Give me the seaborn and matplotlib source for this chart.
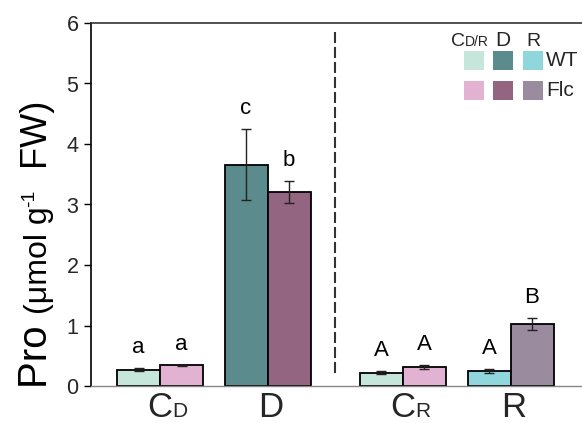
import numpy as np
import pandas as pd
import matplotlib
matplotlib.use("Agg")
import matplotlib.pyplot as plt
import seaborn as sns
from matplotlib.patches import Rectangle
from matplotlib.transforms import blended_transform_factory

# ---- data ----
groups = ["CD", "D", "CR", "R"]
genotypes = ["WT", "Flc"]
wt_mean = [0.27, 3.66, 0.22, 0.25]
flc_mean = [0.34, 3.21, 0.31, 1.02]
wt_err = [0.02, 0.58, 0.02, 0.03]
flc_err = [0.01, 0.18, 0.03, 0.10]
wt_letters = ["a", "c", "A", "A"]
flc_letters = ["a", "b", "A", "B"]

# layout positions of groups (gap between drought and recovery sets)
group_pos = [0.0, 1.0, 2.26, 3.26]

wt_colors = ["#c6e6dc", "#5b8b8d", "#c6e6dc", "#90d6dd"]
flc_colors = ["#e2b2d2", "#946581", "#e2b2d2", "#9b8b9f"]

sns.set_theme(style="white")
plt.rcParams["font.family"] = ["Liberation Sans", "DejaVu Sans"]

df = pd.DataFrame({
    "pos": group_pos * 2,
    "genotype": ["WT"] * 4 + ["Flc"] * 4,
    "value": wt_mean + flc_mean,
})

W, H = 582, 423
fig = plt.figure(figsize=(W / 100, H / 100), dpi=100)
ax = fig.add_axes([91 / W, 37 / H, 491 / W, 363 / H])

sns.barplot(data=df, x="pos", y="value", hue="genotype", hue_order=genotypes,
            native_scale=True, errorbar=None, width=0.8, dodge=True,
            palette=["#cccccc", "#999999"], edgecolor="black", linewidth=1.3,
            legend=False, ax=ax)

# recolor bars individually and collect centers
patches = sorted([p for p in ax.patches if p.get_height() > 0], key=lambda p: p.get_x())
centers_wt, centers_flc = [], []
for i, p in enumerate(patches):
    g = i // 2
    if i % 2 == 0:
        p.set_facecolor(wt_colors[g])
        centers_wt.append(p.get_x() + p.get_width() / 2)
    else:
        p.set_facecolor(flc_colors[g])
        centers_flc.append(p.get_x() + p.get_width() / 2)

ax.errorbar(centers_wt, wt_mean, yerr=wt_err, fmt="none", ecolor="#222222",
            elinewidth=1.0, capsize=3.6, capthick=1.0, zorder=5)
ax.errorbar(centers_flc, flc_mean, yerr=flc_err, fmt="none", ecolor="#222222",
            elinewidth=1.0, capsize=3.6, capthick=1.0, zorder=5)

for xs, ms, es, ls in [(centers_wt, wt_mean, wt_err, wt_letters),
                       (centers_flc, flc_mean, flc_err, flc_letters)]:
    for x, m, e, l in zip(xs, ms, es, ls):
        ax.text(x, m + e + 0.25, l, ha="center", va="baseline", fontsize=16, color="black")

ax.set_xlim(-0.642, 3.925)
ax.set_ylim(0, 6)
ax.set_yticks(range(7))
ax.set_yticklabels([str(i) for i in range(7)], fontsize=15.5)
ax.set_xticks([])
ax.set_xlabel("")
ax.set_ylabel("")
ax.tick_params(axis="y", direction="out", length=5, width=1, color="black", pad=4, left=True)

ax.spines["left"].set_color("black")
ax.spines["left"].set_linewidth(1.2)
ax.spines["top"].set_color("#333333")
ax.spines["top"].set_linewidth(1.2)
ax.spines["bottom"].set_color("#888888")
ax.spines["bottom"].set_linewidth(1.0)
ax.spines["right"].set_visible(False)

# dashed separator
ax.axvline((group_pos[1] + group_pos[2]) / 2, ymin=0.035, ymax=0.975,
           color="#333333", lw=1.5, linestyle=(0, (5.3, 1.9)))

# x group labels (big letter + small letter on same baseline)
tr = blended_transform_factory(ax.transData, fig.transFigure)
yb = 1 - 417 / H
big = ["C", "D", "C", "R"]
small = ["D", "", "R", ""]
for x, b, s in zip(group_pos, big, small):
    if s:
        ax.text(x + 0.11, yb, b, transform=tr, ha="right", va="baseline", fontsize=25)
        ax.text(x + 0.11, yb, s, transform=tr, ha="left", va="baseline", fontsize=15)
    else:
        ax.text(x + 0.03, yb, b, transform=tr, ha="center", va="baseline", fontsize=25)

# y label built from pieces
fig.canvas.draw()
r = fig.canvas.get_renderer()
xbase = 47
ypos = 388
pieces = [("Pro ", 29, 0), ("(μmol g", 23, 0), ("-1", 14, -13), ("  FW)", 26, 0)]
for s, size, dx in pieces:
    t = fig.text((xbase + dx) / W, 1 - ypos / H, s, rotation=90, rotation_mode="anchor",
                 ha="left", va="baseline", fontsize=size, color="black")
    ext = t.get_window_extent(renderer=r)
    ypos -= ext.height

# custom legend
def fx(px):
    return px / W

def fy(py):
    return 1 - py / H

cols_x = [464, 493, 523]
rows = [(51, ["#c6e6dc", "#5b8b8d", "#90d6dd"]), (81, ["#e2b2d2", "#946581", "#9b8b9f"])]
for ytop, cols in rows:
    for x0, c in zip(cols_x, cols):
        fig.add_artist(Rectangle((fx(x0), fy(ytop + 19)), 20 / W, 19 / H,
                                 transform=fig.transFigure, facecolor=c, edgecolor="none"))
fig.text(fx(546), fy(61), "WT", fontsize=15, ha="left", va="center")
fig.text(fx(546), fy(91), "Flc", fontsize=15, ha="left", va="center")
fig.text(fx(451), fy(46), "C", fontsize=14, ha="left", va="baseline")
fig.text(fx(465), fy(46), "D/R", fontsize=10, ha="left", va="baseline")
fig.text(fx(503), fy(46), "D", fontsize=15, ha="center", va="baseline")
fig.text(fx(533), fy(46), "R", fontsize=14, ha="center", va="baseline")

fig.savefig("out.png", dpi=100)
